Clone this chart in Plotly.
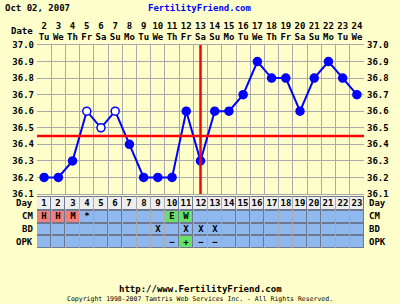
import plotly.graph_objects as go

# ---------------- data ----------------
days = list(range(1, 24))
dates = [2, 3, 4, 5, 6, 7, 8, 9, 10, 11, 12, 13, 14, 15, 16, 17, 18, 19, 20, 21, 22, 23, 24]
weekdays = ["Tu", "We", "Th", "Fr", "Sa", "Su", "Mo", "Tu", "We", "Th", "Fr", "Sa",
            "Su", "Mo", "Tu", "We", "Th", "Fr", "Sa", "Su", "Mo", "Tu", "We"]
temps = [36.2, 36.2, 36.3, 36.6, 36.5, 36.6, 36.4, 36.2, 36.2, 36.2, 36.6, 36.3,
         36.6, 36.6, 36.7, 36.9, 36.8, 36.8, 36.6, 36.8, 36.9, 36.8, 36.7]
open_circle = [False, False, False, True, True, True, False, False, False, False, False, False,
               False, False, False, False, False, False, False, False, False, False, False]
cm = ["H", "H", "M", "*", "", "", "", "", "", "E", "W", "", "", "", "", "", "", "", "", "", "", "", ""]
bd = ["", "", "", "", "", "", "", "", "X", "", "X", "X", "X", "", "", "", "", "", "", "", "", "", ""]
opk = ["", "", "", "", "", "", "", "", "", "−", "+", "−", "−", "", "", "", "", "", "", "", "", "", ""]
coverline = 36.45
ovulation_day = 12
y_ticks = [36.1, 36.2, 36.3, 36.4, 36.5, 36.6, 36.7, 36.8, 36.9, 37.0]

# ---------------- styling ----------------
BG = "#FFFFCC"
GRID = "#AAAAAA"
BLUE = "#0000FF"
RED = "#FF0000"
FONT = "DejaVu Sans Mono"
W, H = 400, 304

def px_x(p):
    return p / W

def px_y(p):
    return 1 - p / H

# table colour codes: 0 day-row grey, 1 blue, 2 pink (flow), 3 green (fertile)
def cm_code(v):
    if v in ("H", "M", "L"):
        return 2
    if v in ("E", "W"):
        return 3
    return 1

def opk_code(v):
    return 3 if v == "+" else 1

z = [
    [opk_code(v) for v in opk],
    [1 for _ in bd],
    [cm_code(v) for v in cm],
    [0 for _ in days],
]
text = [opk, bd, cm, [str(d) for d in days]]
row_edges = [0, 12.7, 25.3, 38, 52]
row_centers = [(row_edges[i] + row_edges[i + 1]) / 2 for i in range(4)]
row_labels = ["OPK", "BD", "CM", "Day"]

fig = go.Figure()

# table heatmap
fig.add_trace(go.Heatmap(
    x=days, y=row_edges, z=z, text=text, texttemplate="%{text}",
    textfont=dict(family=FONT, size=9, color="black", weight="bold"),
    colorscale=[[0, "#EEEEEE"], [0.166, "#EEEEEE"], [0.166, "#8FB8EE"], [0.5, "#8FB8EE"],
                [0.5, "#F08080"], [0.833, "#F08080"], [0.833, "#66E066"], [1, "#66E066"]],
    zmin=0, zmax=3, showscale=False, xgap=1, ygap=2, hoverinfo="skip",
    xaxis="x", yaxis="y2",
))

# temperature line
fig.add_trace(go.Scatter(
    x=days, y=temps, mode="lines+markers",
    line=dict(color=BLUE, width=2),
    marker=dict(size=8, symbol="circle",
                color=["white" if o else BLUE for o in open_circle],
                line=dict(color=BLUE, width=1.5)),
    hoverinfo="skip", xaxis="x", yaxis="y",
))
# invisible trace for right axis
fig.add_trace(go.Scatter(
    x=days, y=temps, mode="lines", line=dict(width=0), opacity=0,
    hoverinfo="skip", xaxis="x", yaxis="y3", showlegend=False,
))

tickfont = dict(family=FONT, size=9, color="black", weight="bold")

fig.update_layout(
    width=W, height=H, margin=dict(l=0, r=0, t=0, b=0),
    paper_bgcolor=BG, plot_bgcolor=BG, showlegend=False,
    xaxis=dict(
        domain=[px_x(37), px_x(364)], range=[0.5, 23.5], side="top",
        tickvals=days, ticktext=[f"{d}<br>{w}" for d, w in zip(dates, weekdays)],
        tickfont=tickfont, showgrid=False, zeroline=False, ticks="",
        minor=dict(tickvals=[d - 0.5 for d in days] + [days[-1] + 0.5],
                   showgrid=True, gridcolor=GRID, gridwidth=1, ticks=""),
        showline=True, linecolor=GRID, mirror=True, automargin=False,
        fixedrange=True,
    ),
    yaxis=dict(
        domain=[px_y(194), px_y(45)], range=[36.1, 37.0],
        tickvals=y_ticks, ticktext=[f"{v:.1f}" for v in y_ticks],
        tickfont=tickfont, showgrid=True, gridcolor=GRID, gridwidth=1,
        zeroline=False, ticks="", automargin=False, fixedrange=True,
        ticklabelstandoff=2,
    ),
    yaxis3=dict(
        overlaying="y", side="right", anchor="x", range=[36.1, 37.0],
        tickvals=y_ticks, ticktext=[f"{v:.1f}" for v in y_ticks],
        tickfont=tickfont, showgrid=False, zeroline=False, ticks="",
        automargin=False, fixedrange=True, ticklabelstandoff=2,
    ),
    yaxis2=dict(
        domain=[px_y(248), px_y(196)], range=[0, 52], anchor="x",
        showticklabels=False, showgrid=False, zeroline=False, ticks="",
        automargin=False, fixedrange=True,
    ),
)

# grey backdrop for table borders
fig.add_shape(type="rect", xref="x domain", yref="y2 domain", x0=0, x1=1, y0=0, y1=1,
              fillcolor="#6E7890", line=dict(width=0), layer="below")

# coverline and ovulation line
fig.add_shape(type="line", xref="x", yref="y", x0=0.5, x1=23.5, y0=coverline, y1=coverline,
              line=dict(color=RED, width=2.5))
fig.add_shape(type="line", xref="x", yref="y", x0=ovulation_day, x1=ovulation_day,
              y0=36.1, y1=37.0, line=dict(color=RED, width=2.5))

# table row labels
for lab, yc in zip(row_labels, row_centers):
    fig.add_annotation(x=px_x(35), y=yc, xref="paper", yref="y2", text=lab,
                       xanchor="right", yanchor="middle", showarrow=False, font=tickfont)
    fig.add_annotation(x=px_x(367), y=yc, xref="paper", yref="y2", text=lab,
                       xanchor="left", yanchor="middle", showarrow=False, font=tickfont)

# header and footer texts
fig.add_annotation(x=px_x(35), y=px_y(31), xref="paper", yref="paper", text="Date",
                   xanchor="right", yanchor="middle", showarrow=False, font=tickfont)
fig.add_annotation(x=px_x(3), y=px_y(8), xref="paper", yref="paper", text="Oct 02, 2007",
                   xanchor="left", yanchor="middle", showarrow=False, font=tickfont)
fig.add_annotation(x=0.5, y=px_y(8), xref="paper", yref="paper", text="FertilityFriend.com",
                   xanchor="center", yanchor="middle", showarrow=False,
                   font=dict(family=FONT, size=9, color=BLUE, weight="bold"))
fig.add_annotation(x=0.5, y=px_y(289), xref="paper", yref="paper",
                   text="http://www.FertilityFriend.com",
                   xanchor="center", yanchor="middle", showarrow=False, font=tickfont)
fig.add_annotation(x=0.5, y=px_y(299), xref="paper", yref="paper",
                   text="Copyright 1998-2007 Tamtris Web Services Inc. - All Rights Reserved.",
                   xanchor="center", yanchor="middle", showarrow=False,
                   font=dict(family=FONT, size=6.5, color="black"))

fig.write_html("out.html", config={"displayModeBar": False})
